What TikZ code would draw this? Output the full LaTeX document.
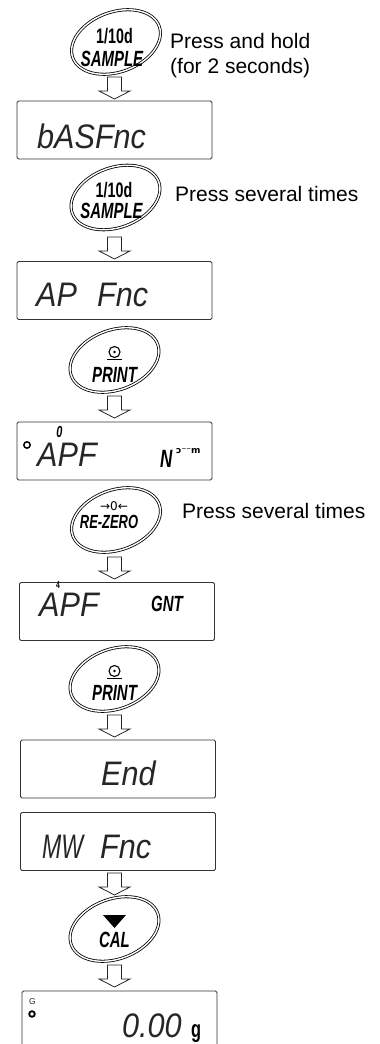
\documentclass[tikz,border=0pt]{standalone}
\usepackage{fontspec}
\setmainfont{Liberation Sans}
\newfontfamily\keyfont{Liberation Sans}[FakeStretch=0.68]
\newfontfamily\lcdfont{Liberation Sans}[FakeStretch=0.9]
\newfontfamily\symfont{DejaVu Sans}
\usetikzlibrary{calc,shapes.geometric}

\begin{document}
\begin{tikzpicture}[x=1pt, y=1pt, font=\fontsize{21}{25}\selectfont,
  keyring/.style={ellipse, draw=black, double=white, double distance=1.4pt, line width=0.8pt,
    rotate=20, minimum width=92pt, minimum height=60pt, inner sep=0pt},
  lcdbox/.style={draw=black!80, line width=0.9pt, rounded corners=1.5pt,
    minimum width=195pt, minimum height=58pt, inner sep=0pt},
  lcdtext/.style={anchor=base west, inner sep=0pt, text=black!85, font=\lcdfont\itshape\fontsize{34}{34}\selectfont},
  keytext/.style={anchor=base, inner sep=0pt, font=\keyfont\bfseries\fontsize{22}{22}\selectfont},
  hollow/.style={draw=black!85, line width=0.8pt, fill=white},
  note/.style={anchor=base west, inner sep=0pt}]

\useasboundingbox (0,0) rectangle (380,-1044);

% ==================== STEP 1: SAMPLE (hold) ====================
\node[keyring] (k1) at (116,-42) {};
\node[keytext, font=\keyfont\bfseries\fontsize{21}{21}\selectfont] (k1a) at ($(k1)+(-1.5,-1)$) {1/10d};
\node[keytext] (k1b) at ($(k1)+(-4,-24)$) {\itshape SAMPLE};
\node[note] (n1) at (170,-48) {Press and hold};
\node[note] (n1b) at (170,-73) {(for 2 seconds)};

% Arrow down
\coordinate (a1) at (114.5,-77);
\draw[hollow] (a1) ++(-7,0) -- ++(0,-14) -- ++(-8.5,0) -- ++(15.5,-8) -- ++(15.5,8) -- ++(-8.5,0) -- ++(0,14) -- cycle;

% Display bASFnc
\node[lcdbox] (d1) at (114.5,-130) {};
\node[lcdtext] (t1) at (37,-148) {bASFnc};

% ==================== STEP 2: SAMPLE (several) ====================
\node[keyring] (k2) at (115.5,-197.5) {};
\node[keytext, font=\keyfont\bfseries\fontsize{21}{21}\selectfont] (k2a) at ($(k2)+(-1.5,0)$) {1/10d};
\node[keytext] (k2b) at ($(k2)+(-4,-21)$) {\itshape SAMPLE};
\node[note] (n2) at (175,-201) {Press several times};

% Arrow down
\coordinate (a2) at (114.5,-237);
\draw[hollow] (a2) ++(-7,0) -- ++(0,-14) -- ++(-8.5,0) -- ++(15.5,-8) -- ++(15.5,8) -- ++(-8.5,0) -- ++(0,14) -- cycle;

% Display AP Fnc
\node[lcdbox] (d2) at (114.5,-290.5) {};
\node[lcdtext] (t2) at (36,-306) {AP};
\node[lcdtext] (t2b) at (97,-306) {Fnc};

% ==================== STEP 3: PRINT ====================
\node[keyring] (k3) at (114.5,-360) {};
\draw[line width=1.1pt] ($(k3)+(0,8)$) circle (5.5);
\fill ($(k3)+(0,8)$) circle (1.3);
\draw[line width=1.3pt] ($(k3)+(-7.5,0.5)$) -- ($(k3)+(7.5,0.5)$);
\node[keytext] (k3b) at ($(k3)+(0,-22)$) {\itshape PRINT};

% Arrow down
\coordinate (a3) at (114.5,-396);
\draw[hollow] (a3) ++(-7,0) -- ++(0,-14) -- ++(-8.5,0) -- ++(15.5,-8) -- ++(15.5,8) -- ++(-8.5,0) -- ++(0,14) -- cycle;

% Display APF with unit indicator
\node[lcdbox] (d3) at (114.5,-451) {};
\draw[line width=1.5pt] (27,-445) circle (3.2);
\node[lcdtext] (t3) at (37,-466) {APF};
\node[keytext, font=\keyfont\bfseries\itshape\fontsize{16}{16}\selectfont] (t3a) at (59.5,-437) {0};
\node[lcdtext, text=black, font=\keyfont\bfseries\itshape\fontsize{25}{25}\selectfont] (t3b) at (160,-467) {N};
\node[lcdtext, text=black, font=\symfont\bfseries\fontsize{9}{9}\selectfont] (t3c) at (176,-453) {ɔ⁻⁻m};

% ==================== STEP 4: RE-ZERO ====================
\node[keyring] (k4) at (116,-520) {};
\node[keytext, font=\symfont\fontsize{12}{12}\selectfont] (k4a) at ($(k4)+(-2,10)$) {→0←};
\node[keytext, font=\keyfont\bfseries\itshape\fontsize{19}{19}\selectfont] (k4b) at ($(k4)+(-7,-8)$) {RE-ZERO};
\node[note] (n4) at (182,-518) {Press several times};

% Arrow down
\coordinate (a4) at (114.5,-557);
\draw[hollow] (a4) ++(-7,0) -- ++(0,-14) -- ++(-8.5,0) -- ++(15.5,-8) -- ++(15.5,8) -- ++(-8.5,0) -- ++(0,14) -- cycle;

% Display APF GNT
\node[lcdbox] (d4) at (117,-611.5) {};
\node[keytext, font=\keyfont\bfseries\fontsize{10}{10}\selectfont] (t4a) at (58,-588.5) {4};
\node[lcdtext] (t4) at (39,-616) {APF};
\node[lcdtext, text=black, font=\keyfont\bfseries\itshape\fontsize{22}{22}\selectfont] (t4b) at (151,-611) {GNT};

% ==================== STEP 5: PRINT ====================
\node[keyring] (k5) at (114.5,-679) {};
\draw[line width=1.1pt] ($(k5)+(0,8)$) circle (5.5);
\fill ($(k5)+(0,8)$) circle (1.3);
\draw[line width=1.3pt] ($(k5)+(-7.5,0.5)$) -- ($(k5)+(7.5,0.5)$);
\node[keytext] (k5b) at ($(k5)+(0,-21)$) {\itshape PRINT};

% Arrow down
\coordinate (a5) at (114.5,-715);
\draw[hollow] (a5) ++(-7,0) -- ++(0,-14) -- ++(-8.5,0) -- ++(15.5,-8) -- ++(15.5,8) -- ++(-8.5,0) -- ++(0,14) -- cycle;

% Display End, then MW Fnc
\node[lcdbox] (d5) at (118,-769) {};
\node[lcdtext] (t5) at (101,-785) {End};
\node[lcdbox] (d6) at (118,-841.5) {};
\node[lcdtext, font=\keyfont\itshape\fontsize{34}{34}\selectfont] (t6) at (42,-858) {MW};
\node[lcdtext] (t6b) at (100,-858) {Fnc};

% Arrow down
\coordinate (a6) at (114.5,-873);
\draw[hollow] (a6) ++(-7,0) -- ++(0,-14) -- ++(-8.5,0) -- ++(15.5,-8) -- ++(15.5,8) -- ++(-8.5,0) -- ++(0,14) -- cycle;

% ==================== STEP 6: CAL ====================
\node[keyring] (k6) at (114.5,-929) {};
\fill ($(k6)+(-11.5,14)$) -- ++(23,0) -- ++(-11.5,-13) -- cycle;
\node[keytext] (k6b) at ($(k6)+(0,-18)$) {\itshape CAL};

% Arrow down
\coordinate (a7) at (114.5,-965);
\draw[hollow] (a7) ++(-7,0) -- ++(0,-14) -- ++(-8.5,0) -- ++(15.5,-8) -- ++(15.5,8) -- ++(-8.5,0) -- ++(0,14) -- cycle;

% Display 0.00 g
\node[lcdbox, minimum height=60pt] (d7) at (119.5,-1021) {};
\node[lcdtext, font=\fontsize{8.5}{8.5}\selectfont] (t7a) at (29,-1004) {G};
\draw[line width=1.8pt] (32,-1014) circle (2.8);
\node[lcdtext] (t7) at (122,-1037) {0.00};
\node[lcdtext, text=black, font=\keyfont\bfseries\fontsize{24}{24}\selectfont] (t7b) at (191,-1037) {g};

\end{tikzpicture}
\end{document}
